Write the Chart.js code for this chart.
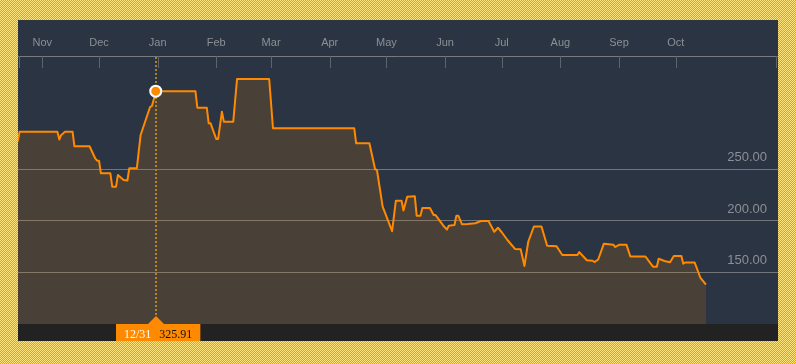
<!DOCTYPE html>
<html><head><meta charset="utf-8">
<script src="https://cdn.jsdelivr.net/npm/chart.js@4.4.1/dist/chart.umd.min.js"></script>
<style>
html,body{margin:0;padding:0;}
body{width:796px;height:364px;overflow:hidden;position:relative;
background: repeating-conic-gradient(#ff9800 0% 25%, #ffe37c 0% 50%) 0 0/2px 2px;}
#wrap{position:absolute;left:18px;top:20px;width:760px;height:321px;}
</style></head><body>
<div id="wrap"><canvas id="c" width="760" height="321"></canvas></div>
<script>
const dates = [
'2015-10-19','2015-10-20','2015-11-09','2015-11-10','2015-11-11','2015-11-12','2015-11-13','2015-11-17','2015-11-18','2015-11-26',
'2015-11-29','2015-11-30','2015-12-01','2015-12-02','2015-12-07','2015-12-08','2015-12-10','2015-12-11','2015-12-14','2015-12-16',
'2015-12-17','2015-12-21','2015-12-23','2015-12-28','2015-12-29','2015-12-30','2015-12-31','2016-01-21','2016-01-22','2016-01-27',
'2016-01-28','2016-01-29','2016-02-01','2016-02-02','2016-02-04','2016-02-05','2016-02-10','2016-02-12','2016-02-29','2016-03-02',
'2016-04-14','2016-04-15','2016-04-22','2016-04-25','2016-04-26','2016-04-29','2016-05-04','2016-05-06','2016-05-09','2016-05-10',
'2016-05-12','2016-05-16','2016-05-17','2016-05-19','2016-05-20','2016-05-24','2016-05-26','2016-05-27','2016-05-31','2016-06-02',
'2016-06-03','2016-06-06','2016-06-07','2016-06-08','2016-06-10','2016-06-13','2016-06-17','2016-06-20','2016-06-24','2016-06-27',
'2016-06-29','2016-07-01','2016-07-04','2016-07-08','2016-07-11','2016-07-13','2016-07-15','2016-07-18','2016-07-22','2016-07-25',
'2016-07-30','2016-08-02','2016-08-10','2016-08-11','2016-08-15','2016-08-18','2016-08-19','2016-08-21','2016-08-24','2016-08-29',
'2016-08-30','2016-09-01','2016-09-05','2016-09-07','2016-09-15','2016-09-17','2016-09-19','2016-09-21','2016-09-22','2016-09-25',
'2016-09-28','2016-09-30','2016-10-04','2016-10-05','2016-10-06','2016-10-11','2016-10-14','2016-10-17'
];
const prices = [
277.0,286.6,286.6,279.0,283.4,284.8,286.6,286.6,272.4,272.4,
260.6,258.4,258.4,246.2,246.2,233.2,233.2,244.6,239.7,239.2,
251.0,251.0,283.4,310.5,311.5,318.3,325.91,325.91,309.8,309.8,
294.7,294.7,279.5,279.5,306.0,296.3,296.3,337.7,337.7,289.9,
289.9,275.3,275.3,250.1,249.4,213.8,190.0,219.6,219.6,210.1,
223.5,224.0,205.1,205.1,212.5,212.5,205.7,205.7,195.6,191.7,
195.4,196.0,205.1,205.1,196.7,197.0,197.7,199.9,199.9,189.5,
193.4,189.0,181.5,172.8,172.5,156.3,179.8,194.6,194.6,176.0,
175.4,166.9,166.9,169.8,161.8,161.4,160.1,162.6,177.9,176.9,
174.7,176.8,176.8,165.5,165.5,160.6,155.6,155.6,163.4,161.1,
159.9,166.0,166.0,158.5,159.7,159.7,145.1,138.1
];
const monthTickDates = ['2015-11-01','2015-12-01','2016-01-01','2016-02-01','2016-03-01','2016-04-01','2016-05-01','2016-06-01','2016-07-01','2016-08-01','2016-09-01','2016-10-01'];
const monthLabels = ['Nov','Dec','Jan','Feb','Mar','Apr','May','Jun','Jul','Aug','Sep','Oct'];
const priceTicks = [150, 200, 250];
const selectedDate = '2015-12-31';

const ORIGIN = Date.UTC(2015, 10, 1);
function dayOf(s){const p=s.split('-').map(Number);return (Date.UTC(p[0],p[1]-1,p[2])-ORIGIN)/86400000;}
const xMin = -12.85, xMax = 389.1;
const monthDays = monthTickDates.map(dayOf);
const xTickValues = [xMin].concat(monthDays, [xMax]);
const lineData = dates.map((d,i)=>({x:dayOf(d), y:prices[i]}));
const selIdx = dates.indexOf(selectedDate);
const selDay = dayOf(selectedDate), selValue = prices[selIdx];
const selParts = selectedDate.split('-').map(Number);
const selLabel = selParts[1] + '/' + selParts[2];

const bgPlugin = {id:'bg', beforeDraw(chart){const {ctx,chartArea:a,width,height}=chart; ctx.save();
  ctx.fillStyle='#2b3442'; ctx.fillRect(0,0,width,a.bottom);
  ctx.fillStyle='#222222'; ctx.fillRect(0,a.bottom,width,height-a.bottom); ctx.restore();}};
const tickPlugin = {id:'tickmarks', afterDatasetsDraw(chart){const {ctx,chartArea:a,width}=chart; const xs=chart.scales.x;
  ctx.save(); ctx.strokeStyle='#5f646b'; ctx.lineWidth=1;
  xs.ticks.forEach(t=>{let px=Math.round(xs.getPixelForValue(t.value)); px=Math.min(Math.max(px,1),width-2)+0.5;
    ctx.beginPath(); ctx.moveTo(px,a.top); ctx.lineTo(px,a.top+12); ctx.stroke();});
  ctx.restore();}};
const crossPlugin = {id:'cross', beforeDatasetsDraw(chart){const {ctx,chartArea:a}=chart;
  const px=Math.round(chart.scales.x.getPixelForValue(selDay));
  ctx.save(); ctx.strokeStyle='#a98228'; ctx.lineWidth=2; ctx.setLineDash([2,2]);
  ctx.beginPath(); ctx.moveTo(px,a.top+1); ctx.lineTo(px,a.bottom-8); ctx.stroke(); ctx.restore();}};
const tipPlugin = {id:'tip', afterDraw(chart){const {ctx,chartArea:a,height}=chart;
  const px=Math.round(chart.scales.x.getPixelForValue(selDay));
  ctx.save(); ctx.fillStyle='#ff8a00';
  ctx.beginPath(); ctx.moveTo(px-8,a.bottom); ctx.lineTo(px,a.bottom-8); ctx.lineTo(px+8,a.bottom); ctx.closePath(); ctx.fill();
  ctx.font='12px "Liberation Serif"';
  const t2=selValue.toFixed(2); const w1=ctx.measureText(selLabel).width, w2=ctx.measureText(t2).width;
  const left=px-40; const w=8+w1+8+w2+8;
  ctx.fillRect(left,a.bottom,w,height-a.bottom);
  ctx.fillStyle='#ffffff'; ctx.fillText(selLabel,left+8,a.bottom+14);
  ctx.fillStyle='#111111'; ctx.fillText(t2,left+16+w1,a.bottom+14);
  ctx.restore();}};

new Chart(document.getElementById('c'), {
  type:'line',
  data:{datasets:[
    {data:[{x:selDay,y:selValue}], order:0, showLine:false, pointRadius:5.5, pointBackgroundColor:'#ff8a00', pointBorderColor:'#ffffff', pointBorderWidth:2},
    {data:lineData, order:1, borderColor:'#ff8a00', borderWidth:2, tension:0, pointRadius:0, fill:'start', backgroundColor:'rgba(255,136,0,0.145)', borderJoinStyle:'round'}
  ]},
  options:{
    responsive:false, devicePixelRatio:1, animation:false,
    layout:{autoPadding:false, padding:{left:0,right:0,top:0,bottom:17}},
    plugins:{legend:{display:false}, tooltip:{enabled:false}},
    scales:{
      x:{type:'linear', position:'top', min:xMin, max:xMax,
        afterBuildTicks:s=>{s.ticks=xTickValues.map(v=>({value:v}));},
        afterFit:s=>{s.height=36; s.paddingLeft=0; s.paddingRight=0;},
        grid:{drawOnChartArea:false, drawTicks:false},
        border:{display:true, color:'#777a7e', width:1},
        ticks:{autoSkip:false, maxRotation:0, padding:6, color:'#8c9096', font:{family:'Liberation Sans', size:11},
          callback:(v)=>{const i=monthDays.indexOf(v); return i>=0?monthLabels[i]:'';}}
      },
      y:{type:'linear', position:'right', min:100, max:360,
        afterBuildTicks:s=>{s.ticks=priceTicks.map(v=>({value:v}));},
        afterFit:s=>{s.width=0; s.paddingTop=0; s.paddingBottom=0;},
        grid:{color:'#72767b', drawTicks:false, lineWidth:1},
        border:{display:false},
        ticks:{mirror:true, padding:-11, labelOffset:-12, color:'#8c9096', font:{family:'Liberation Sans', size:13},
          callback:v=>Number(v).toFixed(2)}
      }
    }
  },
  plugins:[bgPlugin, tickPlugin, crossPlugin, tipPlugin]
});
</script>
</body></html>
